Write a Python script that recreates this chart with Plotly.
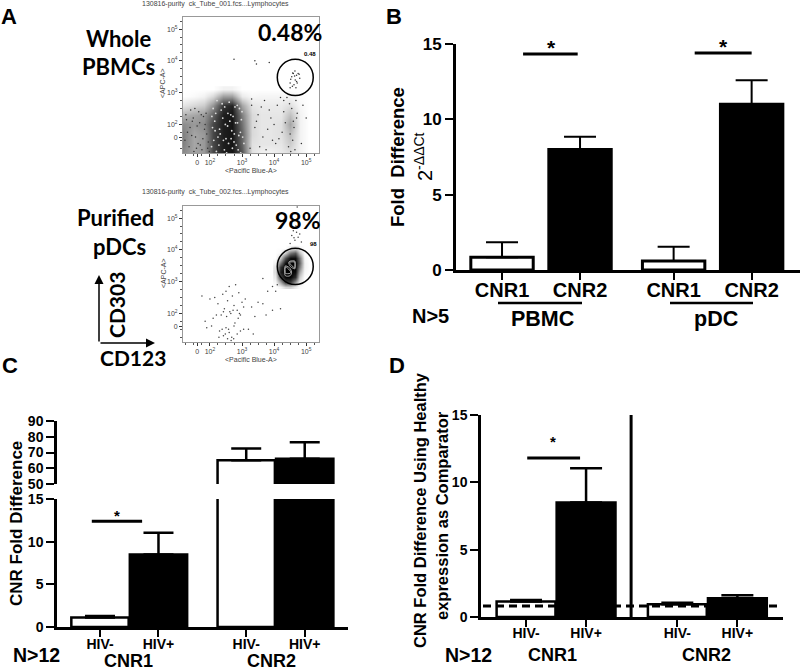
import plotly.graph_objects as go

W, H = 800, 671

# ---------- Panel A data (decades on the biexponential display scale) ----------
tick_dec = [1.6, 2, 3, 4, 5]
x_tick_text = ["0", "10<sup>2</sup>", "10<sup>3</sup>", "10<sup>4</sup>", "10<sup>5</sup>"]
y_tick_text = ["0", "10<sup>2</sup>", "10<sup>3</sup>", "10<sup>4</sup>", "10<sup>5</sup>"]

pbmc_grid_x = [1.16, 1.5, 1.8, 2.1, 2.4, 2.7, 3.0, 3.3, 3.6, 3.9, 4.2, 4.5, 4.8, 5.1]
pbmc_grid_y = [1.1, 1.4, 1.7, 2.0, 2.3, 2.6, 2.9, 3.1]
pbmc_density = [
    [.45, .35, .40, .72, .88, .92, .66, .12, .05, .04, .08, .12, .05, 0],
    [.50, .35, .40, .72, .88, .92, .60, .12, .10, .10, .10, .20, .05, 0],
    [.50, .35, .40, .72, .88, .92, .60, .15, .10, .10, .12, .25, .05, 0],
    [.45, .40, .45, .72, .88, .92, .55, .15, .10, .10, .12, .35, .05, 0],
    [.30, .35, .40, .62, .88, .92, .50, .15, .10, .10, .10, .25, .05, 0],
    [.10, .15, .20, .42, .78, .86, .35, .10, .08, .08, .08, .12, .03, 0],
    [0, .02, .05, .15, .38, .38, .08, .03, .04, .04, .04, .04, .01, 0],
    [0, 0, 0, 0, .05, .05, 0, 0, 0, 0, 0, 0, 0, 0],
]
pbmc_dots_x = [3.3, 3.5, 3.7, 3.9, 4.1, 4.3, 4.4, 4.55, 4.6, 4.62, 4.7, 4.5, 3.4, 3.65, 3.85, 4.05, 4.25,
               4.45, 4.58, 3.25, 3.55, 3.8, 4.0, 4.2, 4.48, 4.65, 4.72, 3.45, 3.75, 4.15, 4.35, 4.9, 5.0,
               4.85, 3.3, 3.6, 3.95, 4.3, 4.52, 4.68, 2.75, 3.4, 4.5, 4.65, 4.66, 4.55, 4.7, 4.62, 4.75,
               4.5, 4.58, 4.8, 4.68, 4.6, 4.72, 4.52, 4.78, 4.64, 4.57, 4.7, 3.45, 3.85,
               1.25, 1.35, 1.45, 1.55, 1.65, 1.75, 1.85, 1.95, 1.3, 1.4, 1.5, 1.6, 1.7, 1.8, 1.9, 1.22, 1.38,
               1.48, 1.58, 1.68, 1.78, 1.88, 1.98, 1.27, 1.43, 1.53, 1.63, 1.73, 1.83, 1.93]
pbmc_dots_y = [2.6, 2.3, 2.75, 2.2, 2.6, 2.4, 2.85, 2.5, 2.1, 1.9, 2.2, 1.7, 1.9, 1.6, 2.45, 1.4, 1.75,
               1.3, 1.5, 1.25, 1.3, 1.85, 2.0, 2.85, 2.65, 1.2, 2.35, 2.1, 1.2, 1.55, 2.05, 2.6, 2.2,
               1.4, 2.8, 2.55, 1.5, 2.75, 1.15, 2.75, 4.05, 4.0, 3.15, 3.68, 3.4, 3.5, 3.55, 3.25, 3.6,
               3.3, 3.62, 3.45, 3.15, 3.6, 3.3, 3.42, 3.58, 3.52, 3.2, 3.35, 3.9, 3.95,
               2.3, 1.3, 2.1, 1.6, 2.4, 1.2, 2.0, 1.45, 1.75, 2.45, 1.15, 1.95, 1.35, 2.25, 1.7, 1.5, 1.9,
               2.2, 1.25, 2.05, 1.55, 2.35, 1.15, 2.15, 1.65, 2.5, 1.4, 2.3, 1.85, 1.25]
pbmc_gaps_x = [2.05, 2.15, 2.25, 2.35, 2.45, 2.55, 2.65, 2.75, 2.85, 2.95, 2.1, 2.2, 2.3, 2.4, 2.5, 2.6, 2.7,
               2.8, 2.9, 3.0, 2.08, 2.18, 2.28, 2.38, 2.48, 2.58, 2.68, 2.78, 2.88, 2.98, 2.12, 2.32, 2.52, 2.72,
               2.92, 2.22, 2.42, 2.62, 2.82, 3.02, 2.06, 2.36, 2.56, 2.76, 2.96, 2.16, 2.46, 2.66, 2.86, 3.06]
pbmc_gaps_y = [1.3, 2.1, 1.6, 2.45, 1.2, 1.95, 2.3, 1.45, 2.6, 1.75, 2.5, 1.15, 1.85, 2.2, 1.55, 2.7, 1.25,
               2.05, 1.65, 2.4, 1.9, 2.35, 1.35, 2.65, 2.0, 1.4, 1.8, 2.55, 1.2, 2.15, 1.5, 1.7, 1.1, 2.25,
               2.5, 2.75, 1.5, 2.1, 1.35, 1.6, 2.25, 1.05, 2.35, 1.7, 1.1, 1.8, 2.55, 1.55, 2.05, 1.4]

pdc_grid_x = [4.05, 4.2, 4.35, 4.5, 4.65, 4.8, 4.95, 5.1]
pdc_grid_y = [2.85, 3.0, 3.15, 3.3, 3.45, 3.6, 3.75, 3.9, 4.05]
pdc_density = [
    [0, .03, .15, .18, .08, .01, 0, 0],
    [.03, .35, .78, .78, .42, .08, 0, 0],
    [.08, .72, .98, .98, .82, .2, 0, 0],
    [.12, .88, 1.0, 1.0, .95, .35, .03, 0],
    [.1, .8, 1.0, .98, 1.0, .52, .05, 0],
    [.04, .52, .95, 1.0, 1.0, .62, .05, 0],
    [0, .2, .68, .95, .95, .55, .03, 0],
    [0, .03, .2, .55, .65, .25, 0, 0],
    [0, 0, 0, .05, .1, .03, 0, 0],
]
pdc_dots_x = [1.75, 2.0, 2.15, 2.25, 2.4, 2.45, 2.5, 2.55, 2.6, 2.65, 2.7, 2.75, 2.8, 2.85, 2.9, 2.95, 3.0,
              2.1, 2.2, 2.35, 2.42, 2.52, 2.62, 2.72, 2.78, 2.88, 2.92, 3.05, 3.1, 1.85, 1.9, 2.05,
              2.3, 2.42, 2.5, 2.55, 2.6, 2.68, 2.75, 2.85, 2.95, 3.05, 3.2, 3.35, 2.28, 2.38, 2.48, 2.58,
              2.66, 2.74, 3.3, 3.5, 3.65, 3.8, 3.95, 4.1, 3.75, 3.95, 4.2, 4.55, 4.6, 4.65, 4.7, 4.75,
              4.58, 4.68, 4.8, 4.62, 4.72, 4.5, 4.85, 3.65, 3.4, 4.05]
pdc_dots_y = [2.55, 2.45, 2.5, 2.3, 2.6, 2.15, 2.7, 2.4, 2.85, 2.0, 2.55, 2.25, 2.9, 2.1, 2.65, 1.95, 2.35,
              1.85, 1.95, 1.95, 2.05, 1.9, 2.05, 2.1, 1.7, 1.85, 2.0, 2.2, 2.45, 1.75, 1.55, 1.6,
              1.45, 1.3, 1.55, 1.2, 1.4, 1.25, 1.6, 1.35, 1.45, 1.5, 1.5, 1.35, 1.25, 1.5, 1.35, 1.5,
              1.15, 1.2, 2.2, 2.35, 2.3, 2.7, 2.85, 2.9, 1.95, 2.1, 2.15, 4.45, 4.6, 4.3, 4.55, 4.4,
              4.7, 4.75, 4.5, 4.38, 5.35, 4.2, 4.25, 3.1, 1.9, 2.7]

# ---------- Panel B ----------
b_labels = ["CNR1", "CNR2", "CNR1", "CNR2"]
b_groups = [0, 0, 1, 1]
b_slots = [0, 1, 0, 1]
b_values = [0.85, 8.0, 0.6, 11.0]
b_errors = [1.0, 0.85, 0.95, 1.6]
b_colors = ["white", "black", "white", "black"]

# ---------- Panels C and D ----------
hiv_labels = ["HIV-", "HIV+", "HIV-", "HIV+"]
hiv_groups = [0, 0, 1, 1]
hiv_slots = [0, 1, 0, 1]
hiv_colors = ["white", "black", "white", "black"]
c_values = [1.1, 8.5, 65, 66]
c_errors = [0.2, 2.55, 7.5, 10.5]
d_values = [1.15, 8.5, 0.95, 1.4]
d_errors = [0.12, 2.55, 0.1, 0.22]
d_comparator = 0.82


def px(x):
    return x / W


def py(y):
    return 1 - y / H


def centres(groups, slots, step):
    return [g * step + s for g, s in zip(groups, slots)]


fig = go.Figure()
annotations = []
shapes = []


def text(x, y, s, size=14, font="Liberation Sans", bold=True, angle=0, color="black"):
    annotations.append(dict(
        xref="paper", yref="paper", x=px(x), y=py(y), text=f"<b>{s}</b>" if bold else s,
        showarrow=False, textangle=angle, xanchor="center", yanchor="middle",
        font=dict(family=font, size=size, color=color)))


def line(x0, y0, x1, y1, width=2.5):
    shapes.append(dict(type="line", xref="paper", yref="paper", x0=px(x0), y0=py(y0),
                       x1=px(x1), y1=py(y1), line=dict(color="black", width=width)))


gray = ["rgb(255,255,255)", "rgb(0,0,0)"]
# Flow cytometry plots
fig.add_trace(go.Heatmap(x=pbmc_grid_x, y=pbmc_grid_y, z=pbmc_density, zmin=0, zmax=1, zsmooth="best",
                         colorscale=[[0, gray[0]], [1, gray[1]]], showscale=False, xaxis="x", yaxis="y"))
fig.add_trace(go.Scatter(x=pbmc_gaps_x, y=pbmc_gaps_y, mode="markers", xaxis="x", yaxis="y",
                         marker=dict(size=1.8, color="#ddd"), showlegend=False))
fig.add_trace(go.Scatter(x=pbmc_dots_x, y=pbmc_dots_y, mode="markers", xaxis="x", yaxis="y",
                         marker=dict(size=1.5, color="#333"), showlegend=False))
fig.add_trace(go.Heatmap(x=pdc_grid_x, y=pdc_grid_y, z=pdc_density, zmin=0, zmax=1, zsmooth="best",
                         colorscale=[[0, gray[0]], [1, gray[1]]], showscale=False, xaxis="x2", yaxis="y2"))
fig.add_trace(go.Contour(x=pdc_grid_x, y=pdc_grid_y, z=pdc_density, xaxis="x2", yaxis="y2", showscale=False,
                         contours=dict(coloring="lines", start=0.985, end=0.995, size=0.01),
                         line=dict(color="#ccc", width=0.8), colorscale=[[0, "#ccc"], [1, "#ccc"]],
                         autocontour=False))
fig.add_trace(go.Scatter(x=pdc_dots_x, y=pdc_dots_y, mode="markers", xaxis="x2", yaxis="y2",
                         marker=dict(size=1.5, color="#444"), showlegend=False))

# Bars
b_x = centres(b_groups, b_slots, 2.2)
fig.add_trace(go.Bar(x=b_x, y=b_values, width=0.8, xaxis="x3", yaxis="y3", showlegend=False,
                     marker=dict(color=b_colors, line=dict(color="black", width=3)),
                     error_y=dict(type="data", symmetric=False, array=b_errors, arrayminus=[0] * 4,
                                  color="black", thickness=2, width=16)))
c_x = centres(hiv_groups, hiv_slots, 2.5)
for xa, ya in (("x4", "y4"), ("x5", "y5")):
    fig.add_trace(go.Bar(x=c_x, y=c_values, width=0.98, xaxis=xa, yaxis=ya, showlegend=False,
                         marker=dict(color=hiv_colors, line=dict(color="black", width=2.5)),
                         error_y=dict(type="data", symmetric=False, array=c_errors, arrayminus=[0] * 4,
                                      color="black", thickness=2.5, width=15)))
d_x = centres(hiv_groups, hiv_slots, 2.52)
fig.add_trace(go.Bar(x=d_x, y=d_values, width=0.98, xaxis="x6", yaxis="y6", showlegend=False,
                     marker=dict(color=hiv_colors, line=dict(color="black", width=2.5)),
                     error_y=dict(type="data", symmetric=False, array=d_errors, arrayminus=[0] * 4,
                                  color="black", thickness=2.5, width=16)))


def flow_axes(top, bottom):
    common = dict(showgrid=False, zeroline=False, ticks="outside", ticklen=3, tickwidth=1, tickcolor="#333",
                  showline=True, mirror=True, linecolor="#999", linewidth=1,
                  tickfont=dict(family="Liberation Sans", size=7, color="#444"),
                  minor=dict(ticks="outside", ticklen=2, dtick=0.25, tickcolor="#555", tickwidth=1))
    return (dict(domain=[px(183), px(319)], range=[1.16, 5.4], tickmode="array", tickvals=tick_dec,
                 ticktext=x_tick_text, **common),
            dict(domain=[py(bottom), py(top)], range=[1.1, 5.38], tickmode="array", tickvals=tick_dec,
                 ticktext=y_tick_text, **common))


xa1, ya1 = flow_axes(17, 153)
xa2, ya2 = flow_axes(206, 342)
xa1.update(anchor="y")
ya1.update(anchor="x")
xa2.update(anchor="y2")
ya2.update(anchor="x2")


def bar_axes(dom_x, x_range, dom_y, y_range, y_ticks, x_ticks, x_text, xanchor, yanchor,
             yfont=17, xfont=20, lw=3, show_x=True, standoff=-7):
    xa = dict(domain=[px(dom_x[0]), px(dom_x[1])], range=x_range, anchor=yanchor, showgrid=False, zeroline=False,
              showline=show_x, linecolor="black", linewidth=lw, tickmode="array",
              tickvals=x_ticks if show_x else [],
              ticktext=[f"<b>{t}</b>" for t in x_text] if show_x else [],
              ticks="outside" if show_x else "", ticklen=7, tickwidth=2, tickcolor="black",
              tickfont=dict(family="Liberation Sans", size=xfont, color="black"),
              ticklabelstandoff=standoff, visible=show_x)
    ya = dict(domain=[py(dom_y[1]), py(dom_y[0])], range=y_range, anchor=xanchor, showgrid=False, zeroline=False,
              showline=True, linecolor="black", linewidth=lw, tickmode="array", tickvals=y_ticks,
              ticktext=[f"<b>{v}</b>" for v in y_ticks], ticks="outside", ticklen=8, tickwidth=2, tickcolor="black",
              tickfont=dict(family="Liberation Sans", size=yfont, color="black"))
    return xa, ya


xa3, ya3 = bar_axes((456, 800), [-0.59, 3.82], (44, 270), [0, 15], [0, 5, 10, 15], b_x, b_labels, "x3", "y3")
xa4, ya4 = bar_axes((57, 348), [-0.735, 4.24], (499, 627), [0, 15], [0, 5, 10, 15], c_x, hiv_labels, "x4", "y4",
                    yfont=14, xfont=14, lw=2.5, standoff=-5)
xa5, ya5 = bar_axes((57, 348), [-0.735, 4.24], (421, 484), [50, 90], [50, 60, 70, 80, 90], c_x, hiv_labels, "x5", "y5",
                    yfont=14, lw=2.5, show_x=False)
xa6, ya6 = bar_axes((481, 783), [-0.75, 4.28], (415, 617), [0, 15], [0, 5, 10, 15], d_x, hiv_labels, "x6", "y6",
                    yfont=14, xfont=14, lw=2.5, standoff=-6)

# Gates
for xr, yr in (("x", "y"), ("x2", "y2")):
    shapes.append(dict(type="circle", xref=xr, yref=yr, x0=4.1, x1=5.22, y0=2.91, y1=4.05,
                       line=dict(color="black", width=1.5)))

# Significance lines
for xr, yr, x0, x1, y0 in (("x3", "y3", 0.27, 0.97, 14.33), ("x3", "y3", 2.47, 3.2, 14.4),
                           ("x4", "y4", -0.14, 0.72, 12.4), ("x6", "y6", 0.02, 0.9, 11.8)):
    shapes.append(dict(type="line", xref=xr, yref=yr, x0=x0, x1=x1, y0=y0, y1=y0,
                       line=dict(color="black", width=3)))

# Panel D separators
shapes.append(dict(type="line", xref="x6", yref="y6", x0=1.75, x1=1.75, y0=0, y1=15.5,
                   line=dict(color="black", width=3)))
shapes.append(dict(type="line", xref="paper", yref="y6", x0=px(483), x1=px(781), y0=d_comparator, y1=d_comparator,
                   line=dict(color="black", width=3, dash="8px,5px")))

# Group underlines of panel B
line(498, 303, 582, 303)
line(670, 303, 753, 303)

# Texts
for x, y, s in ((9, 17, "A"), (394, 17, "B"), (10, 365, "C"), (397, 365, "D")):
    text(x, y, s, size=22)
LATO = "Lato"
text(118, 39, "Whole", 22, LATO)
text(118, 67, "PBMCs", 22, LATO)
text(290, 32, "0.48%", 23, LATO)
text(116, 218, "Purified", 22, LATO)
text(119, 247, "pDCs", 22, LATO)
text(298, 220, "98%", 23, LATO)
text(116, 305, "CD303", 21, LATO, angle=-90)
text(133, 357, "CD123", 21, LATO)
text(310, 54, "0.48", 6)
text(313, 244, "98", 6)
text(215, 4, "130816-purity  ck_Tube_001.fcs...Lymphocytes", 7, bold=False, color="#444")
text(215, 192, "130816-purity  ck_Tube_002.fcs...Lymphocytes", 7, bold=False, color="#444")
text(163, 83, "&lt;APC-A&gt;", 7, bold=False, angle=-90, color="#444")
text(163, 273, "&lt;APC-A&gt;", 7, bold=False, angle=-90, color="#444")
text(251, 170, "&lt;Pacific Blue-A&gt;", 7, bold=False, color="#444")
text(251, 359, "&lt;Pacific Blue-A&gt;", 7, bold=False, color="#444")

text(397, 157, "Fold  Difference", 18.5, angle=-90)
text(423, 157, "2<sup>-ΔΔCt</sup>", 20, bold=False, angle=-90)
text(551, 48, "*", 21)
text(723, 47, "*", 21)
text(430, 316, "N&gt;5", 20)
text(542, 319, "PBMC", 21.5)
text(716, 319, "pDC", 21.5)

text(16, 524, "CNR Fold Difference", 17, angle=-90)
text(117, 515, "*", 15)
text(36, 655, "N&gt;12", 19.5)
text(128, 661, "CNR1", 18)
text(271, 661, "CNR2", 18)

text(420, 510, "CNR Fold Difference Using Healthy", 16.5, angle=-90)
text(442, 516, "expression as Comparator", 16.5, angle=-90)
text(553, 441, "*", 15)
text(468, 655, "N&gt;12", 19.5)
text(552, 655, "CNR1", 18)
text(706, 655, "CNR2", 18)

# CD arrows
for x0, y0, x1, y1 in ((99, 343, 99, 275), (99, 343, 155, 343)):
    annotations.append(dict(xref="paper", yref="paper", x=px(x1), y=py(y1), ax=x0 - x1, ay=y0 - y1,
                            axref="pixel", ayref="pixel", text="", showarrow=True, arrowhead=2, arrowsize=1.2,
                            arrowwidth=1.5, arrowcolor="black"))

fig.update_layout(
    width=W, height=H, margin=dict(l=0, r=0, t=0, b=0, pad=0, autoexpand=False),
    paper_bgcolor="white", plot_bgcolor="white",
    showlegend=False, barmode="overlay", annotations=annotations, shapes=shapes,
    xaxis=xa1, yaxis=ya1, xaxis2=xa2, yaxis2=ya2, xaxis3=xa3, yaxis3=ya3,
    xaxis4=xa4, yaxis4=ya4, xaxis5=xa5, yaxis5=ya5, xaxis6=xa6, yaxis6=ya6,
)
fig.write_html("out.html", config={"displayModeBar": False},
               post_script="document.body.style.margin='0';document.body.style.overflow='hidden';")
